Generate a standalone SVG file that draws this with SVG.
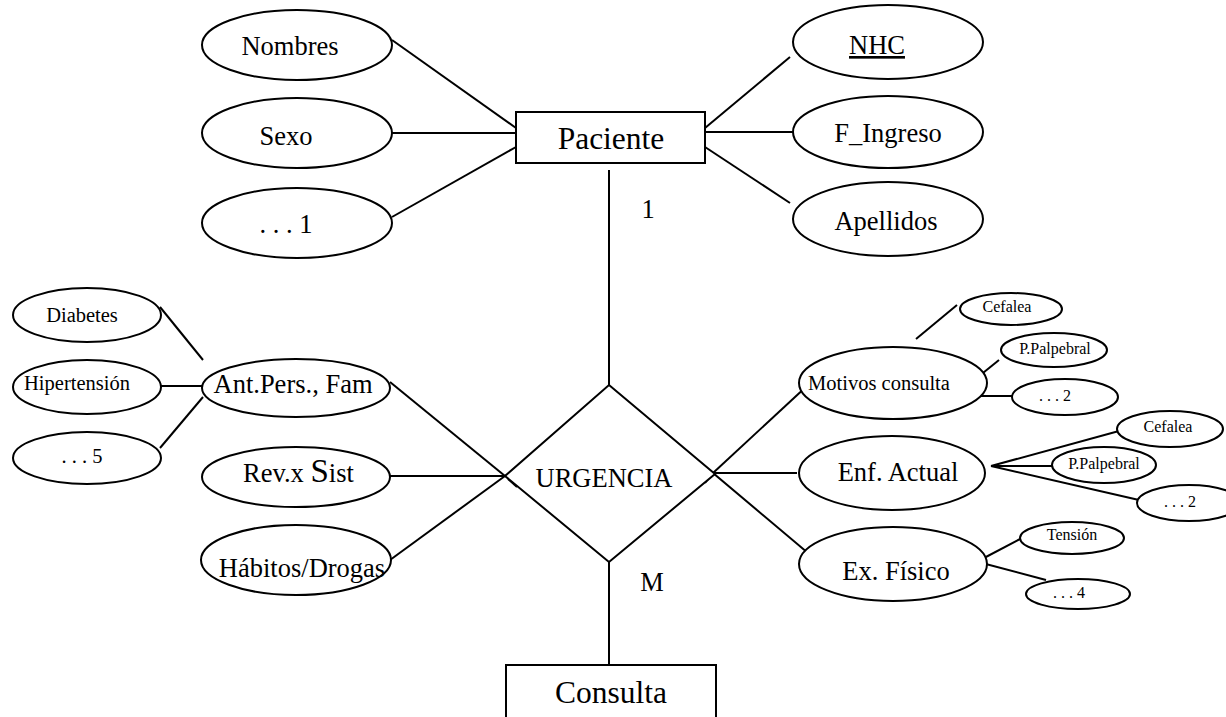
<svg xmlns="http://www.w3.org/2000/svg" width="1226" height="717" viewBox="0 0 1226 717">
<style>
.shape{fill:#fff;stroke:#000;stroke-width:2}
.ln{stroke:#000;stroke-width:2;fill:none}
text{font-family:"Liberation Serif","Times New Roman",serif;fill:#000;text-anchor:middle}
.big{font-size:31.5px}
.mid{font-size:26.5px}
.sm{font-size:20.5px}
.xs{font-size:16px}
</style>
<rect width="1226" height="717" fill="#fff"/>
<g id="connectors">
<line class="ln" x1="392" y1="40" x2="516" y2="128"/>
<line class="ln" x1="392" y1="133" x2="516" y2="133"/>
<line class="ln" x1="392" y1="217" x2="516" y2="147"/>
<line class="ln" x1="705" y1="128" x2="790" y2="57"/>
<line class="ln" x1="705" y1="132" x2="793" y2="132"/>
<line class="ln" x1="705" y1="147" x2="790" y2="203"/>
<line class="ln" x1="609" y1="170" x2="609" y2="385"/>
<line class="ln" x1="609" y1="562" x2="609" y2="665"/>
<line class="ln" x1="160" y1="307" x2="203" y2="360"/>
<line class="ln" x1="161" y1="386" x2="203" y2="386"/>
<line class="ln" x1="160" y1="448" x2="203" y2="397"/>
<line class="ln" x1="390" y1="382" x2="505" y2="476"/>
<line class="ln" x1="390" y1="476" x2="517" y2="476"/>
<line class="ln" x1="390" y1="560" x2="505" y2="476"/>
<line class="ln" x1="505" y1="476" x2="517" y2="472"/>
<line class="ln" x1="508" y1="479" x2="517" y2="487"/>
<line class="ln" x1="808" y1="385" x2="713" y2="473"/>
<line class="ln" x1="797" y1="473" x2="713" y2="473"/>
<line class="ln" x1="713" y1="473" x2="808" y2="553"/>
<line class="ln" x1="713" y1="473" x2="705" y2="483"/>
<line class="ln" x1="916" y1="339" x2="957" y2="305"/>
<line class="ln" x1="978" y1="377" x2="999" y2="360"/>
<line class="ln" x1="980" y1="396" x2="1020" y2="396"/>
<line class="ln" x1="991" y1="466" x2="1119" y2="431"/>
<line class="ln" x1="991" y1="466" x2="1053" y2="466"/>
<line class="ln" x1="991" y1="466" x2="1139" y2="500"/>
<line class="ln" x1="984" y1="558" x2="1020" y2="539"/>
<line class="ln" x1="982" y1="563" x2="1046" y2="580"/>
</g>
<g id="paciente"><rect class="shape" x="516" y="112" width="189" height="51"/><text class="big" x="611" y="149">Paciente</text></g>
<g id="consulta"><rect class="shape" x="506" y="665" width="210" height="70"/><text class="big" x="611" y="703">Consulta</text></g>
<g id="urgencia"><polygon class="shape" points="609,385 715,474 609,562 505,476"/><text class="mid" x="604" y="487">URGENCIA</text></g>
<g id="lbl1"><text class="mid" x="648" y="218">1</text></g>
<g id="lblM"><text class="mid" x="652" y="591">M</text></g>
<g id="nombres"><ellipse class="shape" cx="297" cy="45" rx="95" ry="35"/><text class="mid" x="290" y="55">Nombres</text></g>
<g id="sexo"><ellipse class="shape" cx="297" cy="133" rx="95" ry="35"/><text class="mid" x="286" y="145">Sexo</text></g>
<g id="etc1"><ellipse class="shape" cx="297" cy="223" rx="95" ry="35"/><text class="mid" x="286" y="233">. . . 1</text></g>
<g id="nhc"><ellipse class="shape" cx="888" cy="42" rx="95" ry="37"/><text class="mid" x="877" y="54" text-decoration="underline">NHC</text></g>
<g id="fingreso"><ellipse class="shape" cx="888" cy="132" rx="95" ry="36"/><text class="mid" x="888" y="142">F_Ingreso</text></g>
<g id="apellidos"><ellipse class="shape" cx="888" cy="219" rx="95" ry="37"/><text class="mid" x="886" y="230">Apellidos</text></g>
<g id="diabetes"><ellipse class="shape" cx="87" cy="315" rx="74" ry="27"/><text class="sm" x="82" y="322">Diabetes</text></g>
<g id="hipertension"><ellipse class="shape" cx="87" cy="387" rx="74" ry="27"/><text class="sm" x="77" y="390">Hipertensión</text></g>
<g id="etc5"><ellipse class="shape" cx="87" cy="458" rx="74" ry="26"/><text class="sm" x="82" y="463">. . . 5</text></g>
<g id="antpers"><ellipse class="shape" cx="296" cy="388" rx="94" ry="29"/><text class="mid" x="293" y="393">Ant.Pers., Fam</text></g>
<g id="revsist"><ellipse class="shape" cx="296" cy="477" rx="94" ry="30"/><text class="mid" x="243" y="482" style="text-anchor:start">Rev.x <tspan style="font-size:33px">S</tspan>ist</text></g>
<g id="habitos"><ellipse class="shape" cx="296" cy="560" rx="95" ry="35"/><text class="mid" x="302" y="577">Hábitos/Drogas</text></g>
<g id="motivos"><ellipse class="shape" cx="893" cy="383" rx="94" ry="36"/><text class="sm" x="879" y="390">Motivos consulta</text></g>
<g id="cefalea1"><ellipse class="shape" cx="1011" cy="309" rx="51" ry="16"/><text class="xs" x="1007" y="312">Cefalea</text></g>
<g id="ppalpebral1"><ellipse class="shape" cx="1054" cy="350" rx="53" ry="17"/><text class="xs" x="1055" y="354">P.Palpebral</text></g>
<g id="etc2a"><ellipse class="shape" cx="1065" cy="397" rx="53" ry="18"/><text class="xs" x="1055" y="401">. . . 2</text></g>
<g id="enfactual"><ellipse class="shape" cx="892" cy="473" rx="93" ry="37"/><text class="mid" x="898" y="481">Enf. Actual</text></g>
<g id="cefalea2"><ellipse class="shape" cx="1170" cy="429" rx="53" ry="18"/><text class="xs" x="1168" y="432">Cefalea</text></g>
<g id="ppalpebral2"><ellipse class="shape" cx="1104" cy="465" rx="52" ry="18"/><text class="xs" x="1104" y="469">P.Palpebral</text></g>
<g id="etc2b"><ellipse class="shape" cx="1189" cy="503" rx="52" ry="18"/><text class="xs" x="1180" y="507">. . . 2</text></g>
<g id="exfisico"><ellipse class="shape" cx="893" cy="564" rx="94" ry="37"/><text class="mid" x="896" y="580">Ex. Físico</text></g>
<g id="tension"><ellipse class="shape" cx="1072" cy="538" rx="52" ry="16"/><text class="xs" x="1072" y="540">Tensión</text></g>
<g id="etc4"><ellipse class="shape" cx="1078" cy="594" rx="52" ry="15"/><text class="xs" x="1069" y="598">. . . 4</text></g>
</svg>
